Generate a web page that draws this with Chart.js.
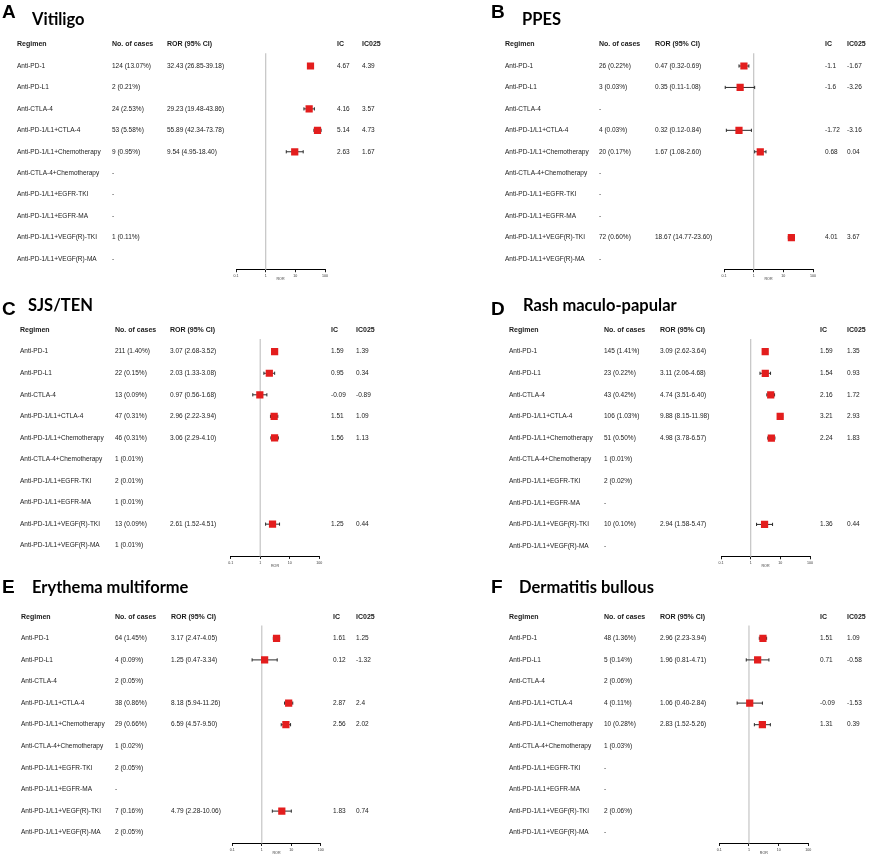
<!DOCTYPE html>
<html>
<head>
<meta charset="utf-8">
<script src="https://cdn.jsdelivr.net/npm/chart.js@4.4.1/dist/chart.umd.min.js"></script>
<style>
  html, body { margin: 0; padding: 0; background: #ffffff; }
  #fig { position: relative; width: 872px; height: 856px; overflow: hidden; background: #fff; }
  #fig canvas { position: absolute; }
</style>
</head>
<body>
<div id="fig"></div>
<script>
const N = null;
const regimens = ['Anti-PD-1', 'Anti-PD-L1', 'Anti-CTLA-4', 'Anti-PD-1/L1+CTLA-4', 'Anti-PD-1/L1+Chemotherapy',
  'Anti-CTLA-4+Chemotherapy', 'Anti-PD-1/L1+EGFR-TKI', 'Anti-PD-1/L1+EGFR-MA', 'Anti-PD-1/L1+VEGF(R)-TKI', 'Anti-PD-1/L1+VEGF(R)-MA'];
const headers = ['Regimen', 'No. of cases', 'ROR (95% CI)', 'IC', 'IC025'];
const xTicks = [0.1, 1, 10, 100];
const xTickLabels = ['0.1', '1', '10', '100'];
const xTitle = 'ROR';

// A Vitiligo
const vitiligoN     = [124, 2, 24, 53, 9, N, N, N, 1, N];
const vitiligoPct   = [13.07, 0.21, 2.53, 5.58, 0.95, N, N, N, 0.11, N];
const vitiligoRor   = [32.43, N, 29.23, 55.89, 9.54, N, N, N, N, N];
const vitiligoLo    = [26.85, N, 19.48, 42.34, 4.95, N, N, N, N, N];
const vitiligoHi    = [39.18, N, 43.86, 73.78, 18.40, N, N, N, N, N];
const vitiligoIc    = [4.67, N, 4.16, 5.14, 2.63, N, N, N, N, N];
const vitiligoIc025 = [4.39, N, 3.57, 4.73, 1.67, N, N, N, N, N];

// B PPES
const ppesN     = [26, 3, N, 4, 20, N, N, N, 72, N];
const ppesPct   = [0.22, 0.03, N, 0.03, 0.17, N, N, N, 0.60, N];
const ppesRor   = [0.47, 0.35, N, 0.32, 1.67, N, N, N, 18.67, N];
const ppesLo    = [0.32, 0.11, N, 0.12, 1.08, N, N, N, 14.77, N];
const ppesHi    = [0.69, 1.08, N, 0.84, 2.60, N, N, N, 23.60, N];
const ppesIc    = [-1.1, -1.6, N, -1.72, 0.68, N, N, N, 4.01, N];
const ppesIc025 = [-1.67, -3.26, N, -3.16, 0.04, N, N, N, 3.67, N];

// C SJS/TEN
const sjsN     = [211, 22, 13, 47, 46, 1, 2, 1, 13, 1];
const sjsPct   = [1.40, 0.15, 0.09, 0.31, 0.31, 0.01, 0.01, 0.01, 0.09, 0.01];
const sjsRor   = [3.07, 2.03, 0.97, 2.96, 3.06, N, N, N, 2.61, N];
const sjsLo    = [2.68, 1.33, 0.56, 2.22, 2.29, N, N, N, 1.52, N];
const sjsHi    = [3.52, 3.08, 1.68, 3.94, 4.10, N, N, N, 4.51, N];
const sjsIc    = [1.59, 0.95, -0.09, 1.51, 1.56, N, N, N, 1.25, N];
const sjsIc025 = [1.39, 0.34, -0.89, 1.09, 1.13, N, N, N, 0.44, N];

// D Rash maculo-papular
const rashN     = [145, 23, 43, 106, 51, 1, 2, N, 10, N];
const rashPct   = [1.41, 0.22, 0.42, 1.03, 0.50, 0.01, 0.02, N, 0.10, N];
const rashRor   = [3.09, 3.11, 4.74, 9.88, 4.98, N, N, N, 2.94, N];
const rashLo    = [2.62, 2.06, 3.51, 8.15, 3.78, N, N, N, 1.58, N];
const rashHi    = [3.64, 4.68, 6.40, 11.98, 6.57, N, N, N, 5.47, N];
const rashIc    = [1.59, 1.54, 2.16, 3.21, 2.24, N, N, N, 1.36, N];
const rashIc025 = [1.35, 0.93, 1.72, 2.93, 1.83, N, N, N, 0.44, N];

// E Erythema multiforme
const emN     = [64, 4, 2, 38, 29, 1, 2, N, 7, 2];
const emPct   = [1.45, 0.09, 0.05, 0.86, 0.66, 0.02, 0.05, N, 0.16, 0.05];
const emRor   = [3.17, 1.25, N, 8.18, 6.59, N, N, N, 4.79, N];
const emLo    = [2.47, 0.47, N, 5.94, 4.57, N, N, N, 2.28, N];
const emHi    = [4.05, 3.34, N, 11.26, 9.50, N, N, N, 10.06, N];
const emIc    = [1.61, 0.12, N, 2.87, 2.56, N, N, N, 1.83, N];
const emIc025 = [1.25, -1.32, N, 2.4, 2.02, N, N, N, 0.74, N];

// F Dermatitis bullous
const dbN     = [48, 5, 2, 4, 10, 1, N, N, 2, N];
const dbPct   = [1.36, 0.14, 0.06, 0.11, 0.28, 0.03, N, N, 0.06, N];
const dbRor   = [2.96, 1.96, N, 1.06, 2.83, N, N, N, N, N];
const dbLo    = [2.23, 0.81, N, 0.40, 1.52, N, N, N, N, N];
const dbHi    = [3.94, 4.71, N, 2.84, 5.26, N, N, N, N, N];
const dbIc    = [1.51, 0.71, N, -0.09, 1.31, N, N, N, N, N];
const dbIc025 = [1.09, -0.58, N, -1.53, 0.39, N, N, N, N, N];

const panels = [
  { letter: 'A', title: 'Vitiligo', n: vitiligoN, pct: vitiligoPct, ror: vitiligoRor, lo: vitiligoLo, hi: vitiligoHi, ic: vitiligoIc, ic025: vitiligoIc025 },
  { letter: 'B', title: 'PPES', n: ppesN, pct: ppesPct, ror: ppesRor, lo: ppesLo, hi: ppesHi, ic: ppesIc, ic025: ppesIc025 },
  { letter: 'C', title: 'SJS/TEN', n: sjsN, pct: sjsPct, ror: sjsRor, lo: sjsLo, hi: sjsHi, ic: sjsIc, ic025: sjsIc025 },
  { letter: 'D', title: 'Rash maculo-papular', n: rashN, pct: rashPct, ror: rashRor, lo: rashLo, hi: rashHi, ic: rashIc, ic025: rashIc025 },
  { letter: 'E', title: 'Erythema multiforme', n: emN, pct: emPct, ror: emRor, lo: emLo, hi: emHi, ic: emIc, ic025: emIc025 },
  { letter: 'F', title: 'Dermatitis bullous', n: dbN, pct: dbPct, ror: dbRor, lo: dbLo, hi: dbHi, ic: dbIc, ic025: dbIc025 }
];

// layout (positions only)
const layouts = [
  { left: 0,   top: 0,   w: 436, h: 285, lx: 2,  ly: 18, tx: 32, ty: 25, cols: [17, 112, 167, 337, 362], axL: 236,   axR: 325,   r0: 66,   r9: 259 },
  { left: 436, top: 0,   w: 436, h: 285, lx: 55, ly: 18, tx: 86, ty: 25, cols: [69, 163, 219, 389, 411], axL: 288,   axR: 377,   r0: 66,   r9: 259 },
  { left: 0,   top: 285, w: 436, h: 285, lx: 2,  ly: 30, tx: 28, ty: 26, cols: [20, 115, 170, 331, 356], axL: 230.7, axR: 319.3, r0: 66.7, r9: 260.7 },
  { left: 436, top: 285, w: 436, h: 285, lx: 55, ly: 30, tx: 87, ty: 26, cols: [73, 168, 224, 384, 411], axL: 285,   axR: 374,   r0: 66.7, r9: 261 },
  { left: 0,   top: 570, w: 436, h: 286, lx: 2,  ly: 23, tx: 32, ty: 23, cols: [21, 115, 171, 333, 356], axL: 232.3, axR: 320.7, r0: 68.3, r9: 262.7 },
  { left: 436, top: 570, w: 436, h: 286, lx: 55, ly: 23, tx: 83, ty: 23, cols: [73, 168, 224, 384, 411], axL: 283.3, axR: 372.3, r0: 68.3, r9: 262.7 }
];

const AXIS_H = 11.8;
const TXT = '#1a1a1a';
const SANS = '"Liberation Sans", Arial, sans-serif';

function fmt2(v) { return v.toFixed(2); }

panels.forEach((p, k) => {
  const L = layouts[k];
  const cv = document.createElement('canvas');
  cv.width = L.w; cv.height = L.h;
  cv.style.left = L.left + 'px'; cv.style.top = L.top + 'px';
  cv.style.width = L.w + 'px'; cv.style.height = L.h + 'px';
  document.getElementById('fig').appendChild(cv);

  const s = (L.r9 - L.r0) / 9;
  const padTop = L.r0 - s / 2;
  const padBottom = L.h - (L.r9 + s / 2) - AXIS_H;

  const squares = [];
  const ciSets = [];
  p.ror.forEach((v, i) => {
    if (v == null) return;
    squares.push({ x: v, y: i });
    ciSets.push({
      type: 'scatter', showLine: true,
      data: [{ x: p.lo[i], y: i }, { x: p.hi[i], y: i }],
      borderColor: '#2b2b2b', borderWidth: 1,
      pointStyle: 'line', rotation: 90, pointRadius: 1.6,
      pointBorderColor: '#2b2b2b', pointBorderWidth: 1, pointHoverRadius: 0
    });
  });

  const textPlugin = {
    id: 'forestText' + k,
    beforeDatasetsDraw(chart) {
      const ctx = chart.ctx, xs = chart.scales.x, ca = chart.chartArea;
      const x1 = xs.getPixelForValue(1);
      ctx.save();
      ctx.strokeStyle = '#c9c9c9';
      ctx.lineWidth = 1.3;
      ctx.beginPath();
      ctx.moveTo(x1, ca.top - 2);
      ctx.lineTo(x1, ca.bottom);
      ctx.stroke();
      ctx.restore();
    },
    afterDraw(chart) {
      const ctx = chart.ctx, ys = chart.scales.y;
      ctx.save();
      ctx.fillStyle = '#000';
      ctx.textAlign = 'left';
      ctx.textBaseline = 'alphabetic';
      ctx.font = 'bold 19px ' + SANS;
      ctx.fillText(p.letter, L.lx, L.ly);
      ctx.font = 'bold 16.5px Lato, "Open Sans", sans-serif';
      ctx.fillText(p.title, L.tx, L.ty);

      ctx.fillStyle = TXT;
      ctx.textBaseline = 'middle';
      ctx.font = 'bold 7px ' + SANS;
      const hy = ys.getPixelForValue(-1);
      headers.forEach((h, j) => ctx.fillText(h, L.cols[j], hy));

      ctx.font = '6.5px ' + SANS;
      regimens.forEach((r, i) => {
        const y = ys.getPixelForValue(i);
        ctx.fillText(r, L.cols[0], y);
        const cases = p.n[i] == null ? '-' : p.n[i] + ' (' + fmt2(p.pct[i]) + '%)';
        ctx.fillText(cases, L.cols[1], y);
        if (p.ror[i] != null) {
          ctx.fillText(fmt2(p.ror[i]) + ' (' + fmt2(p.lo[i]) + '-' + fmt2(p.hi[i]) + ')', L.cols[2], y);
        }
        if (p.ic[i] != null) ctx.fillText(String(p.ic[i]), L.cols[3], y);
        if (p.ic025[i] != null) ctx.fillText(String(p.ic025[i]), L.cols[4], y);
      });
      ctx.restore();
    }
  };

  new Chart(cv, {
    type: 'scatter',
    data: {
      datasets: [
        {
          type: 'scatter', data: squares,
          pointStyle: 'rect', pointRadius: 5.1, pointHoverRadius: 5.1,
          backgroundColor: '#e31d1d', borderColor: '#e31d1d', borderWidth: 0
        },
        ...ciSets
      ]
    },
    options: {
      responsive: false,
      animation: false,
      events: [],
      layout: { padding: { left: L.axL, right: L.w - L.axR, top: padTop, bottom: padBottom } },
      plugins: { legend: { display: false }, tooltip: { enabled: false } },
      scales: {
        x: {
          type: 'logarithmic', min: 0.1, max: 100,
          afterBuildTicks(scale) { scale.ticks = xTicks.map(v => ({ value: v })); },
          afterFit(scale) { scale.height = AXIS_H; },
          ticks: {
            autoSkip: false, maxRotation: 0, padding: 1.5,
            color: '#333', font: { size: 3.6, family: SANS },
            callback(v, i) { return xTickLabels[i]; }
          },
          grid: { display: true, drawOnChartArea: false, drawTicks: true, tickLength: 2.5, color: '#000', lineWidth: 0.9 },
          border: { display: true, color: '#000', width: 1 },
          title: { display: true, text: xTitle, color: '#333', font: { size: 3.6, family: SANS }, padding: { top: 0, bottom: 0 } }
        },
        y: { type: 'linear', min: -0.5, max: 9.5, reverse: true, display: false }
      }
    },
    plugins: [textPlugin]
  });
});
</script>
</body>
</html>
